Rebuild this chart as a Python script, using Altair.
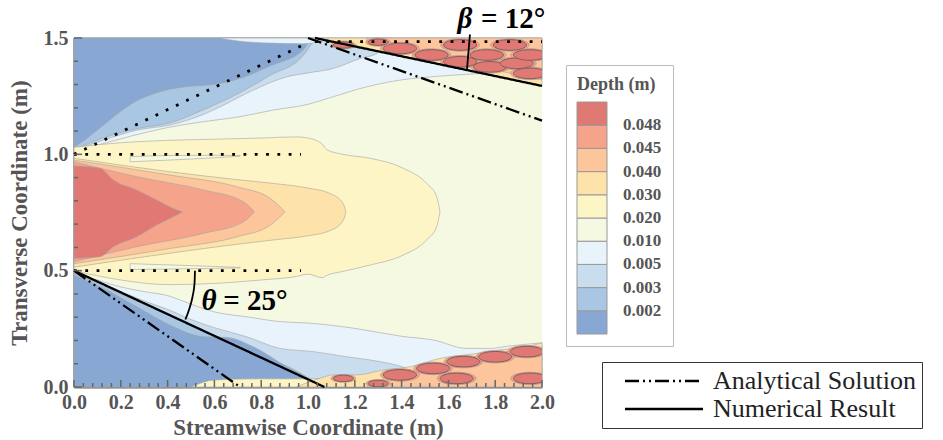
import altair as alt
import pandas as pd

# ---------------- contour levels ----------------
LEVEL_COLORS = ["#88a8d3", "#a9c6e2", "#c9ddee", "#e8f3fb", "#f5f9e1",
                "#fef5c6", "#fde3a9", "#fcc59c", "#f5a38b", "#e07874"]
LEVEL_THRESHOLDS = [1, 2, 3, 4, 5, 6, 7, 8, 9]
LEVEL_LABELS = ["0.002", "0.003", "0.005", "0.010", "0.020",
                "0.030", "0.040", "0.045", "0.048"]
Y_TOP = 1.5

# ---------------- contour regions (x, lower edge, upper edge) ----------------
BG_X = [0.0, 2.0]
# lower half
LO010_X = [0, 0.1, 0.2, 0.3, 0.41, 0.453, 0.595, 0.75, 0.88, 1.0, 1.2, 1.4, 1.535, 1.678, 1.78, 1.85, 2.0]
LO010_HI = [0.49, 0.46, 0.43, 0.41, 0.39, 0.374, 0.324, 0.30, 0.281, 0.275, 0.252, 0.218, 0.202, 0.166, 0.166, 0.175, 0.19]
LO005_X = [0, 0.1, 0.2, 0.3, 0.41, 0.5, 0.6, 0.738, 0.88, 1.023, 1.165, 1.308, 1.393, 1.45]
LO005_HI = [0.49, 0.45, 0.41, 0.37, 0.33, 0.29, 0.255, 0.216, 0.166, 0.152, 0.13, 0.109, 0.09, 0.07]
LO003_X = [0, 0.2, 0.41, 0.6, 0.8, 0.95, 1.06]
LO003_HI = [0.49, 0.40, 0.305, 0.22, 0.135, 0.07, 0.0]
LO002_X = [0, 0.125, 0.268, 0.41, 0.553, 0.652, 0.766, 0.909, 1.0, 1.05]
LO002_HI = [0.481, 0.424, 0.345, 0.266, 0.216, 0.213, 0.173, 0.087, 0.037, 0.0]
BSTRIP_X = [0.5, 0.6, 0.8, 1.0, 1.05]
BSTRIP_HI = [0.0, 0.03, 0.035, 0.035, 0.037]
BZONE_X = [0.95, 1.05, 1.108, 1.208, 1.322, 1.436, 1.564, 1.706, 1.82, 1.963, 2.0]
BZONE_HI = [0.0, 0.037, 0.052, 0.052, 0.073, 0.087, 0.123, 0.142, 0.159, 0.18, 0.19]
BPEACH_X = [1.25, 1.35, 1.45, 1.6, 1.75, 1.9, 2.0]
BPEACH_HI = [0.0, 0.045, 0.06, 0.09, 0.11, 0.13, 0.14]

# upper half
UP010_X = [0, 0.1, 0.25, 0.4, 0.55, 0.7, 0.85, 1.0, 1.1, 1.25, 1.4, 1.55, 1.75, 2.0]
UP010_LO = [1.02, 1.04, 1.08, 1.115, 1.14, 1.16, 1.19, 1.215, 1.245, 1.29, 1.32, 1.335, 1.348, 1.36]
UP005_X = [0, 0.125, 0.268, 0.41, 0.55, 0.624, 0.766, 0.909, 1.0, 1.108, 1.222, 1.294, 1.36]
UP005_LO = [1.02, 1.061, 1.104, 1.126, 1.17, 1.204, 1.276, 1.333, 1.35, 1.369, 1.412, 1.433, 1.5]
UP003_X = [0, 0.125, 0.268, 0.41, 0.55, 0.7, 0.84, 0.98, 1.03]
UP003_LO = [1.02, 1.07, 1.11, 1.135, 1.19, 1.26, 1.34, 1.425, 1.5]
UP002_X = [0, 0.05, 0.125, 0.2, 0.268, 0.35, 0.41, 0.5, 0.595, 0.695, 0.838, 0.98, 1.01]
UP002_LO = [1.03, 1.065, 1.125, 1.185, 1.23, 1.264, 1.28, 1.293, 1.3, 1.322, 1.38, 1.45, 1.5]
TSTRIP_X = [0.62, 0.7, 0.84, 0.98, 1.03]
TSTRIP_LO = [1.5, 1.487, 1.478, 1.475, 1.48]

# central jet
T030_X = [0, 0.2, 0.4, 0.6, 0.8, 0.95, 1.0, 1.06, 1.08, 1.15, 1.265, 1.407, 1.507, 1.55, 1.564]
T030_LO = [0.5, 0.46, 0.44, 0.445, 0.46, 0.475, 0.485, 0.47, 0.48, 0.497, 0.524, 0.567, 0.632, 0.689, 0.753]
T030_HI = [1.03, 1.05, 1.06, 1.065, 1.07, 1.075, 1.07, 1.045, 1.02, 1.0, 0.983, 0.94, 0.875, 0.818, 0.753]
FING_UP_X = [0.24, 0.4, 0.6, 0.71]
FING_UP_LO = [0.968, 0.975, 0.985, 0.992]
FING_UP_HI = [0.99, 0.995, 0.996, 0.995]
FING_LO_X = [0.24, 0.4, 0.6, 0.71]
FING_LO_LO = [0.505, 0.507, 0.51, 0.512]
FING_LO_HI = [0.53, 0.525, 0.518, 0.514]
T040_X = [0, 0.41, 0.709, 0.852, 1.0, 1.094, 1.15, 1.162]
T040_LO = [0.515, 0.575, 0.615, 0.632, 0.65, 0.672, 0.715, 0.753]
T040_HI = [0.983, 0.925, 0.89, 0.875, 0.855, 0.832, 0.789, 0.753]
T045_X = [0, 0.41, 0.695, 0.838, 0.902]
T045_LO = [0.53, 0.595, 0.645, 0.695, 0.753]
T045_HI = [0.975, 0.911, 0.861, 0.811, 0.753]
T048_X = [0, 0.268, 0.553, 0.724, 0.771]
T048_LO = [0.538, 0.603, 0.66, 0.71, 0.753]
T048_HI = [0.968, 0.904, 0.847, 0.796, 0.753]
CORE_X = [0, 0.111, 0.168, 0.268, 0.353, 0.439, 0.464]
CORE_LO = [0.553, 0.56, 0.603, 0.646, 0.696, 0.739, 0.753]
CORE_HI = [0.95, 0.94, 0.89, 0.847, 0.804, 0.761, 0.753]

# region beyond the upper numerical wall
WZONE_X = [1.03, 2.0]
WZONE_LO = [1.5, 1.294]
WPEACH_X = [1.25, 2.0]
WPEACH_LO = [1.478, 1.32]

# spurious high-depth blobs
BLOB_BIG_X = [1.393, 1.528, 1.65, 1.65, 1.764, 1.778, 1.892, 1.949, 1.949, 1.863,
              1.393, 1.535, 1.635, 1.664, 1.8, 1.935, 1.949]
BLOB_BIG_Y = [1.455, 1.427, 1.47, 1.398, 1.427, 1.376, 1.391, 1.427, 1.348, 1.47,
              0.052, 0.08, 0.037, 0.109, 0.13, 0.152, 0.037]
BLOB_SMALL_X = [1.151, 1.30, 1.151, 1.30]
BLOB_SMALL_Y = [1.47, 1.482, 0.037, 0.015]

# guide lines
GUIDE_SEG = ["nu", "nu", "nl", "nl", "au", "au", "al", "al"]
GUIDE_KIND = ["Numerical Result"] * 4 + ["Analytical Solution"] * 4
GUIDE_X = [1.03, 2.0, 0.0, 1.07, 1.0, 2.0, 0.0, 0.71]
GUIDE_Y = [1.5, 1.294, 0.5, 0.0, 1.5, 1.145, 0.5, 0.0]

DOT_SEG = ["a", "a", "b", "b", "c", "c", "d", "d"]
DOT_X = [0.0, 0.97, 0.0, 0.97, 0.0, 0.99, 1.03, 2.0]
DOT_Y = [1.0, 1.0, 0.5, 0.5, 1.0, 1.475, 1.484, 1.484]

ARC_SEG = ["t", "t", "t", "t", "t", "b", "b"]
ARC_X = [0.517, 0.515, 0.507, 0.494, 0.476, 1.692, 1.679]
ARC_Y = [0.500, 0.445, 0.39, 0.34, 0.29, 1.515, 1.358]

GREEK_TEXT = ["β", "θ"]
GREEK_X = [1.671, 0.577]
GREEK_Y = [1.543, 0.331]
EQ_TEXT = ["= 12°", "= 25°"]
EQ_X = [1.739, 0.638]
EQ_Y = [1.543, 0.331]

X_MAJOR = [0.0, 0.2, 0.4, 0.6, 0.8, 1.0, 1.2, 1.4, 1.6, 1.8, 2.0]
X_MINOR = [0.04, 0.08, 0.12, 0.16, 0.24, 0.28, 0.32, 0.36, 0.44, 0.48, 0.52, 0.56,
           0.64, 0.68, 0.72, 0.76, 0.84, 0.88, 0.92, 0.96, 1.04, 1.08, 1.12, 1.16,
           1.24, 1.28, 1.32, 1.36, 1.44, 1.48, 1.52, 1.56, 1.64, 1.68, 1.72, 1.76,
           1.84, 1.88, 1.92, 1.96]
Y_MAJOR = [0.0, 0.5, 1.0, 1.5]
Y_MINOR = [0.1, 0.2, 0.3, 0.4, 0.6, 0.7, 0.8, 0.9, 1.1, 1.2, 1.3, 1.4]

# ---------------- scales / axes / legends ----------------
SERIF = "Liberation Serif"
XS = alt.Scale(domain=[0, 2], nice=False, zero=False)
YS = alt.Scale(domain=[0, 1.5], nice=False, zero=False)
XAX = alt.Axis(title="Streamwise Coordinate (m)", values=X_MAJOR, format=".1f", ticks=False,
               grid=False, labelFlush=False, labelPadding=5, titlePadding=4,
               domainColor="#666666", domainWidth=2)
YAX = alt.Axis(title="Transverse Coordinate (m)", values=Y_MAJOR, format=".1f", ticks=False,
               grid=False, labelFlush=False, labelPadding=6, titlePadding=12,
               domainColor="#666666", domainWidth=2)
CS = alt.Scale(type="threshold", domain=LEVEL_THRESHOLDS, range=LEVEL_COLORS)
label_js = "[" + ",".join("'%s'" % s for s in LEVEL_LABELS) + "][datum.value - 1]"
CLEG = alt.Legend(type="gradient", title="Depth (m)", orient="none", legendX=492, legendY=27,
                  direction="vertical", gradientLength=232, gradientThickness=30,
                  gradientStrokeColor="#999999", gradientStrokeWidth=1,
                  labelExpr=label_js, labelFont=SERIF, labelFontSize=17, labelFontWeight="bold",
                  labelColor="#555555", labelOffset=16, labelOverlap=False,
                  titleFont=SERIF, titleFontSize=18, titleFontWeight="bold", titleColor="#555555",
                  titlePadding=8, padding=11, strokeColor="#bbbbbb")
DS = alt.Scale(domain=["Analytical Solution", "Numerical Result"],
               range=[[14, 4, 2, 4, 2, 4], [1, 0]])
DLEG = alt.Legend(title=None, orient="none", legendX=528, legendY=324,
                  symbolType="M-3.9,0L3.9,0", symbolSize=400, symbolOffset=43,
                  labelOffset=36, symbolStrokeWidth=2.5, symbolStrokeColor="black",
                  labelFont=SERIF, labelFontSize=26, labelColor="#222222", labelLimit=400,
                  strokeColor="#333333", padding=6, rowPadding=2)

ELLIPSE = "M-1,0A1,0.32,0,1,1,1,0A1,0.32,0,1,1,-1,0Z"


def area(x, lo, hi, lvl, outline=True):
    df = pd.DataFrame({"x": x, "lo": lo, "hi": hi, "lvl": [lvl] * len(x)})
    mk = dict(interpolate="monotone")
    if outline:
        mk.update(stroke="#a3a3a3", strokeWidth=0.6)
    return alt.Chart(df).mark_area(**mk).encode(
        x=alt.X("x:Q", scale=XS, axis=XAX),
        y=alt.Y("lo:Q", scale=YS, axis=YAX),
        y2="hi:Q",
        fill=alt.Fill("lvl:Q", scale=CS, legend=CLEG),
    )


def zeros(x):
    return [0.0] * len(x)


def tops(x):
    return [Y_TOP] * len(x)


layers = [
    area(BG_X, zeros(BG_X), tops(BG_X), 4, outline=False),
    area(LO010_X, zeros(LO010_X), LO010_HI, 3),
    area(LO005_X, zeros(LO005_X), LO005_HI, 2),
    area(LO003_X, zeros(LO003_X), LO003_HI, 1),
    area(LO002_X, zeros(LO002_X), LO002_HI, 0),
    area(BSTRIP_X, zeros(BSTRIP_X), BSTRIP_HI, 5),
    area(BZONE_X, zeros(BZONE_X), BZONE_HI, 6),
    area(BPEACH_X, zeros(BPEACH_X), BPEACH_HI, 7),
    area(UP010_X, UP010_LO, tops(UP010_X), 3),
    area(UP005_X, UP005_LO, tops(UP005_X), 2),
    area(UP003_X, UP003_LO, tops(UP003_X), 1),
    area(UP002_X, UP002_LO, tops(UP002_X), 0),
    area(TSTRIP_X, TSTRIP_LO, tops(TSTRIP_X), 3),
    area(T030_X, T030_LO, T030_HI, 5),
    area(FING_UP_X, FING_UP_LO, FING_UP_HI, 4),
    area(FING_LO_X, FING_LO_LO, FING_LO_HI, 4),
    area(T040_X, T040_LO, T040_HI, 6),
    area(T045_X, T045_LO, T045_HI, 7),
    area(T048_X, T048_LO, T048_HI, 8),
    area(CORE_X, CORE_LO, CORE_HI, 9),
    area(WZONE_X, WZONE_LO, tops(WZONE_X), 6),
    area(WPEACH_X, WPEACH_LO, tops(WPEACH_X), 7),
]

big = pd.DataFrame({"x": BLOB_BIG_X, "y": BLOB_BIG_Y})
small = pd.DataFrame({"x": BLOB_SMALL_X, "y": BLOB_SMALL_Y})
for df, halo, core in [(big, 1500, 1100), (small, 600, 400)]:
    layers.append(alt.Chart(df).mark_point(shape=ELLIPSE, filled=True, fill="#f5a38b",
                                           stroke="#b59a8a", strokeWidth=0.8, size=halo,
                                           opacity=1, clip=True).encode(
        x=alt.X("x:Q", scale=XS, axis=XAX), y=alt.Y("y:Q", scale=YS, axis=YAX)))
    layers.append(alt.Chart(df).mark_point(shape=ELLIPSE, filled=True, fill="#e07874",
                                           stroke="#7f5f5f", strokeWidth=1, size=core,
                                           opacity=1, clip=True).encode(
        x=alt.X("x:Q", scale=XS, axis=XAX), y=alt.Y("y:Q", scale=YS, axis=YAX)))

dots = pd.DataFrame({"seg": DOT_SEG, "x": DOT_X, "y": DOT_Y})
layers.append(alt.Chart(dots).mark_line(color="black", strokeWidth=2.8, strokeDash=[2.8, 8.5]).encode(
    x=alt.X("x:Q", scale=XS, axis=XAX), y=alt.Y("y:Q", scale=YS, axis=YAX), detail="seg:N"))

guides = pd.DataFrame({"seg": GUIDE_SEG, "kind": GUIDE_KIND, "x": GUIDE_X, "y": GUIDE_Y})
layers.append(alt.Chart(guides).mark_line(color="black", strokeWidth=2.3).encode(
    x=alt.X("x:Q", scale=XS, axis=XAX), y=alt.Y("y:Q", scale=YS, axis=YAX), detail="seg:N",
    strokeDash=alt.StrokeDash("kind:N", scale=DS, legend=DLEG)))

arcs = pd.DataFrame({"seg": ARC_SEG, "x": ARC_X, "y": ARC_Y, "i": list(range(len(ARC_X)))})
layers.append(alt.Chart(arcs).mark_line(color="black", strokeWidth=1.8, interpolate="monotone").encode(
    x=alt.X("x:Q", scale=XS, axis=XAX), y=alt.Y("y:Q", scale=YS, axis=YAX), detail="seg:N",
    order="i:Q"))

greek = pd.DataFrame({"t": GREEK_TEXT, "x": GREEK_X, "y": GREEK_Y})
layers.append(alt.Chart(greek).mark_text(font=SERIF, fontSize=29, fontWeight="bold", fontStyle="italic",
                                         align="center", baseline="alphabetic", color="black").encode(
    x=alt.X("x:Q", scale=XS, axis=XAX), y=alt.Y("y:Q", scale=YS, axis=YAX), text="t:N"))
eq = pd.DataFrame({"t": EQ_TEXT, "x": EQ_X, "y": EQ_Y})
layers.append(alt.Chart(eq).mark_text(font=SERIF, fontSize=29, fontWeight="bold",
                                      align="left", baseline="alphabetic", color="black").encode(
    x=alt.X("x:Q", scale=XS, axis=XAX), y=alt.Y("y:Q", scale=YS, axis=YAX), text="t:N"))

# inward ticks
for vals, ln in [(X_MAJOR, 7), (X_MINOR, 4)]:
    layers.append(alt.Chart(pd.DataFrame({"v": vals})).mark_rule(color="#666666", strokeWidth=1.5).encode(
        x=alt.X("v:Q", scale=XS, axis=XAX), y=alt.value(349), y2=alt.value(349 - ln)))
for vals, ln in [(Y_MAJOR, 8), (Y_MINOR, 4)]:
    layers.append(alt.Chart(pd.DataFrame({"v": vals})).mark_rule(color="#666666", strokeWidth=1.5).encode(
        y=alt.Y("v:Q", scale=YS, axis=YAX), x=alt.value(0), x2=alt.value(ln)))

chart = alt.layer(*layers).properties(
    width=468, height=349,
    autosize=alt.AutoSizeParams(type="none"),
    padding={"left": 74, "top": 38, "right": 401, "bottom": 53},
    background="white",
).configure_view(stroke=None).configure_axis(
    labelFont=SERIF, labelFontSize=20, labelFontWeight="bold", labelColor="#555555",
    titleFont=SERIF, titleFontSize=23, titleFontWeight="bold", titleColor="#555555",
)

chart.save("out.html", embed_options={"renderer": "svg", "actions": False})
